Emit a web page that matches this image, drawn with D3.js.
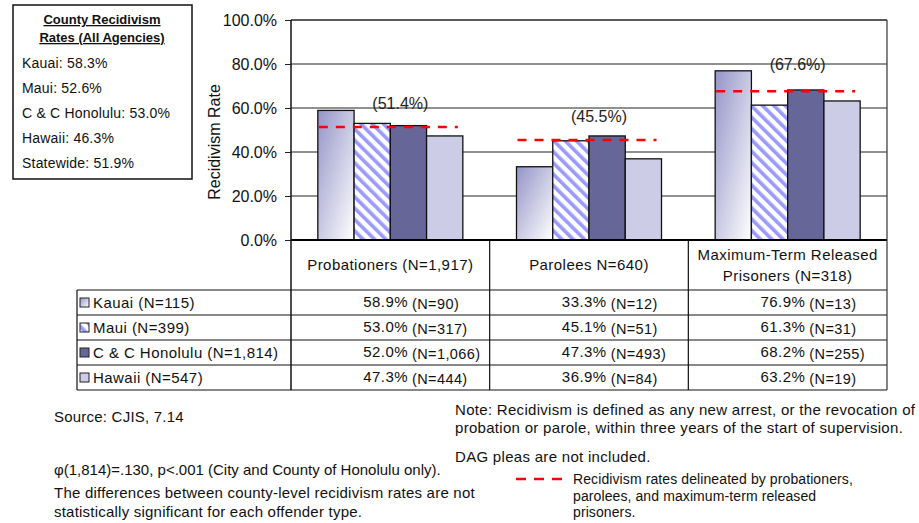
<!DOCTYPE html>
<html>
<head>
<meta charset="utf-8">
<script src="https://cdn.jsdelivr.net/npm/d3@7"></script>
<style>
  body { margin: 0; background: #fff; }
  svg { font-family: "Liberation Sans", Arial, sans-serif; }
</style>
</head>
<body>
<div id="container"></div>
<script>
const offenderTypes = ['Probationers', 'Parolees', 'Maximum-Term'];
const typeHeaders = [['Probationers (N=1,917)'], ['Parolees N=640)'], ['Maximum-Term Released', 'Prisoners (N=318)']];
const counties = ['Kauai', 'Maui', 'C & C Honolulu', 'Hawaii'];
const countyLabels = ['Kauai (N=115)', 'Maui (N=399)', 'C & C Honolulu (N=1,814)', 'Hawaii (N=547)'];
// rates per county, one value per offender type
const rates = [
    [58.9, 33.3, 76.9],
    [53.0, 45.1, 61.3],
    [52.0, 47.3, 68.2],
    [47.3, 36.9, 63.2]
];
const cellN = [
    ['(N=90)', '(N=12)', '(N=13)'],
    ['(N=317)', '(N=51)', '(N=31)'],
    ['(N=1,066)', '(N=493)', '(N=255)'],
    ['(N=444)', '(N=84)', '(N=19)']
];
const typeRates = [51.4, 45.5, 67.6];
const yTicks = [0, 20, 40, 60, 80, 100];
const summaryItems = ['Kauai: 58.3%', 'Maui: 52.6%', 'C & C Honolulu: 53.0%', 'Hawaii: 46.3%', 'Statewide: 51.9%'];

const W = 919, H = 523;
const plot = { left: 291, right: 887, top: 20, bottom: 240 };
const rowH = 25;
const headerBottom = 290;
const tableLeft = 77;

const svg = d3.select("#container")
    .append("svg")
    .attr("width", W)
    .attr("height", H);

const defs = svg.append("defs");
const grad = defs.append("linearGradient")
    .attr("id", "kauaiFill")
    .attr("x1", "0").attr("y1", "0").attr("x2", "1").attr("y2", "1");
grad.append("stop").attr("offset", "0%").attr("stop-color", "#9494c8");
grad.append("stop").attr("offset", "100%").attr("stop-color", "#ffffff");

const pat = defs.append("pattern")
    .attr("id", "mauiFill")
    .attr("patternUnits", "userSpaceOnUse")
    .attr("width", 8).attr("height", 8)
    .attr("patternTransform", "rotate(-45)");
pat.append("rect").attr("width", 8).attr("height", 8).attr("fill", "#fff");
pat.append("rect").attr("x", 0).attr("width", 3.6).attr("height", 8).attr("fill", "#9999ff");

const fills = ['url(#kauaiFill)', 'url(#mauiFill)', '#666699', '#ccccE6'];

const x0 = d3.scaleBand()
    .domain(offenderTypes)
    .range([plot.left, plot.right]);

const x1 = d3.scaleBand()
    .domain(counties)
    .range([0, x0.bandwidth()])
    .paddingOuter(0.74);

const y = d3.scaleLinear()
    .domain([0, 100])
    .range([plot.bottom, plot.top]);

// gridlines
svg.append("g")
    .selectAll("line")
    .data(yTicks.filter(d => d > 0))
    .enter()
    .append("line")
    .attr("x1", plot.left)
    .attr("x2", plot.right)
    .attr("y1", d => y(d))
    .attr("y2", d => y(d))
    .attr("stroke", "#222")
    .attr("stroke-width", d => d === 100 ? 1.5 : 1);

const yAxis = d3.axisLeft(y)
    .tickValues(yTicks)
    .tickSize(6)
    .tickPadding(8)
    .tickFormat(d => d3.format(".1f")(d) + "%");

const yg = svg.append("g")
    .attr("transform", `translate(${plot.left},0)`)
    .call(yAxis);
yg.select(".domain").remove();
yg.selectAll(".tick line").attr("stroke", "#222");
yg.selectAll("text")
    .attr("font-size", 16)
    .attr("font-family", "Liberation Sans, Arial, sans-serif")
    .attr("fill", "#111");

svg.append("text")
    .attr("transform", `translate(220,${(plot.top + plot.bottom) / 2 + 12}) rotate(-90)`)
    .attr("text-anchor", "middle")
    .attr("font-size", 16)
    .attr("fill", "#111")
    .text("Recidivism Rate");

// bars
const groups = svg.append("g")
    .selectAll("g")
    .data(offenderTypes)
    .enter()
    .append("g")
    .attr("transform", d => `translate(${x0(d)},0)`);

groups.selectAll("rect")
    .data((d, j) => counties.map((c, i) => ({ county: c, i: i, value: rates[i][j] })))
    .enter()
    .append("rect")
    .attr("x", d => x1(d.county))
    .attr("y", d => y(d.value))
    .attr("width", x1.bandwidth())
    .attr("height", d => y(0) - y(d.value))
    .attr("fill", d => fills[d.i])
    .attr("stroke", "#111")
    .attr("stroke-width", 1.3);

// average lines per offender type
groups.append("line")
    .attr("x1", x1(counties[0]) + 1)
    .attr("x2", x1(counties[3]) + x1.bandwidth() - 5)
    .attr("y1", (d, j) => y(typeRates[j]))
    .attr("y2", (d, j) => y(typeRates[j]))
    .attr("stroke", "#ff0000")
    .attr("stroke-width", 2.5)
    .attr("stroke-dasharray", "9,8");

groups.append("text")
    .attr("x", x0.bandwidth() / 2 + 10)
    .attr("y", (d, j) => y(typeRates[j]) - (j === 2 ? 21 : 18))
    .attr("text-anchor", "middle")
    .attr("font-size", 16)
    .attr("fill", "#222")
    .text((d, j) => `(${typeRates[j].toFixed(1)}%)`);

// table
const table = svg.append("g");
const tableBottom = headerBottom + rowH * counties.length;

table.append("line")
    .attr("x1", plot.left).attr("x2", plot.right)
    .attr("y1", plot.bottom).attr("y2", plot.bottom)
    .attr("stroke", "#000").attr("stroke-width", 2);

table.selectAll(".hline")
    .data(d3.range(counties.length + 1))
    .enter()
    .append("line")
    .attr("class", "hline")
    .attr("x1", tableLeft).attr("x2", plot.right)
    .attr("y1", i => headerBottom + i * rowH)
    .attr("y2", i => headerBottom + i * rowH)
    .attr("stroke", "#111").attr("stroke-width", 1.2);

table.append("line")
    .attr("x1", tableLeft).attr("x2", tableLeft)
    .attr("y1", headerBottom).attr("y2", tableBottom)
    .attr("stroke", "#111").attr("stroke-width", 1.2);

table.append("line")
    .attr("x1", plot.left).attr("x2", plot.left)
    .attr("y1", plot.top).attr("y2", tableBottom)
    .attr("stroke", "#111").attr("stroke-width", 1.5);

table.append("line")
    .attr("x1", plot.right).attr("x2", plot.right)
    .attr("y1", plot.top).attr("y2", tableBottom)
    .attr("stroke", "#333").attr("stroke-width", 1.2);

table.selectAll(".vline")
    .data(offenderTypes.slice(1))
    .enter()
    .append("line")
    .attr("class", "vline")
    .attr("x1", d => x0(d)).attr("x2", d => x0(d))
    .attr("y1", plot.bottom).attr("y2", tableBottom)
    .attr("stroke", "#111").attr("stroke-width", 1.2);

const cellFont = { size: 15, spacing: 0.45 };

offenderTypes.forEach((t, j) => {
    const lines = typeHeaders[j];
    const cy = (plot.bottom + headerBottom) / 2;
    lines.forEach((s, k) => {
        table.append("text")
            .attr("x", x0(t) + x0.bandwidth() / 2)
            .attr("y", cy + 5 + (k - (lines.length - 1) / 2) * 21)
            .attr("text-anchor", "middle")
            .attr("font-size", cellFont.size)
            .attr("letter-spacing", cellFont.spacing)
            .attr("fill", "#111")
            .text(s);
    });
});

counties.forEach((c, i) => {
    const ry = headerBottom + i * rowH;
    table.append("rect")
        .attr("x", 80).attr("y", ry + 8)
        .attr("width", 9).attr("height", 9)
        .attr("fill", fills[i])
        .attr("stroke", "#222").attr("stroke-width", 1);
    table.append("text")
        .attr("x", 93).attr("y", ry + 18)
        .attr("font-size", cellFont.size)
        .attr("letter-spacing", cellFont.spacing)
        .attr("fill", "#111")
        .text(countyLabels[i]);
    offenderTypes.forEach((t, j) => {
        const px = x0(t) + 117;
        table.append("text")
            .attr("x", px).attr("y", ry + 17)
            .attr("text-anchor", "end")
            .attr("font-size", cellFont.size)
            .attr("letter-spacing", cellFont.spacing)
            .attr("fill", "#111")
            .text(rates[i][j].toFixed(1) + "%");
        table.append("text")
            .attr("x", px + 4).attr("y", ry + 19)
            .attr("font-size", 14.5)
            .attr("letter-spacing", 0.4)
            .attr("fill", "#111")
            .text(cellN[i][j]);
    });
});

// summary box
const box = svg.append("g");
box.append("rect")
    .attr("x", 13).attr("y", 5)
    .attr("width", 179).attr("height", 174)
    .attr("fill", "#fff")
    .attr("stroke", "#111").attr("stroke-width", 1.5);

["County Recidivism", "Rates (All Agencies)"].forEach((s, k) => {
    box.append("text")
        .attr("x", 102).attr("y", 24 + k * 18)
        .attr("text-anchor", "middle")
        .attr("font-size", 13)
        .attr("font-weight", "bold")
        .attr("text-decoration", "underline")
        .attr("fill", "#111")
        .text(s);
});

box.selectAll(".item")
    .data(summaryItems)
    .enter()
    .append("text")
    .attr("class", "item")
    .attr("x", 22)
    .attr("y", (d, i) => 68 + i * 25)
    .attr("font-size", 14)
    .attr("letter-spacing", 0.2)
    .attr("fill", "#111")
    .text(d => d);

// notes
const notes = svg.append("g").attr("font-size", 15).attr("fill", "#111");
const leftNote = notes.append("g").attr("letter-spacing", 0.22);
leftNote.append("text").attr("x", 54).attr("y", 422).text("Source: CJIS, 7.14");
leftNote.append("text").attr("x", 54).attr("y", 475).attr("letter-spacing", 0).text("\u03c6(1,814)=.130, p<.001 (City and County of Honolulu only).");
leftNote.append("text").attr("x", 54).attr("y", 498).text("The differences between county-level recidivism rates are not");
leftNote.append("text").attr("x", 54).attr("y", 517).text("statistically significant for each offender type.");
const rightNote = notes.append("g").attr("letter-spacing", 0.3);
rightNote.append("text").attr("x", 455).attr("y", 415).text("Note: Recidivism is defined as any new arrest, or the revocation of");
rightNote.append("text").attr("x", 455).attr("y", 433).text("probation or parole, within three years of the start of supervision.");
rightNote.append("text").attr("x", 455).attr("y", 462).text("DAG pleas are not included.");

notes.append("line")
    .attr("x1", 516).attr("x2", 564)
    .attr("y1", 479).attr("y2", 479)
    .attr("stroke", "#ff0000").attr("stroke-width", 2.5)
    .attr("stroke-dasharray", "10,8");
["Recidivism rates delineated by probationers,", "parolees, and maximum-term released", "prisoners."].forEach((s, k) => {
    notes.append("text")
        .attr("x", 573).attr("y", 484 + k * 16.5)
        .attr("font-size", 14)
        .attr("letter-spacing", 0.1)
        .text(s);
});
</script>
</body>
</html>
